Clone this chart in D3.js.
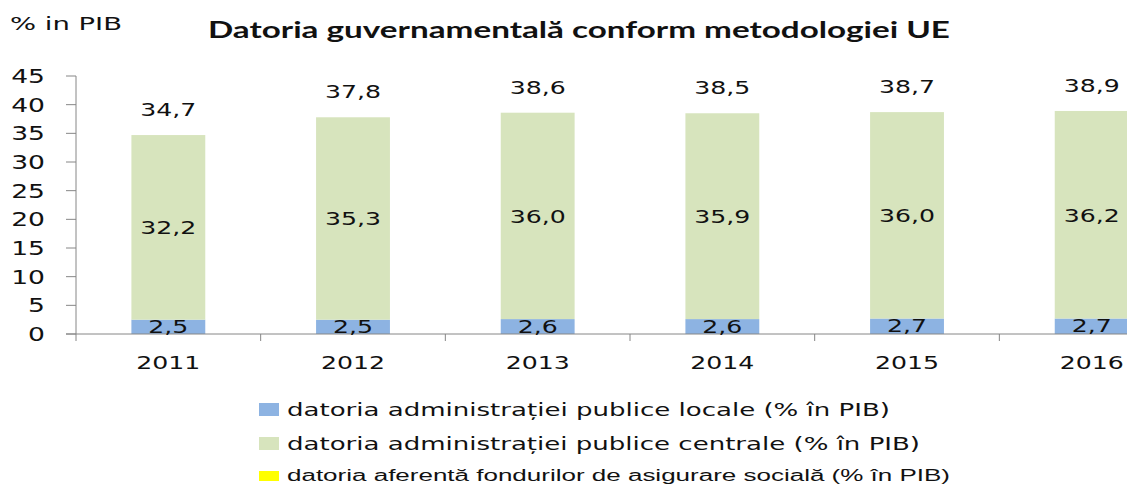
<!DOCTYPE html>
<html>
<head>
<meta charset="utf-8">
<script src="https://cdn.jsdelivr.net/npm/d3@7"></script>
<style>
  body { margin: 0; background: #fff; }
  text { font-family: "DejaVu Sans", Verdana, sans-serif; fill: #111; }
</style>
</head>
<body>
<div class="chart"></div>
<script>
var w = 1127;
var h = 485;

// data
const years = ["2011", "2012", "2013", "2014", "2015", "2016"];
const locale = [2.5, 2.5, 2.6, 2.6, 2.7, 2.7];
const centrale = [32.2, 35.3, 36.0, 35.9, 36.0, 36.2];
const sociale = [0, 0, 0, 0, 0, 0];
const totals = [34.7, 37.8, 38.6, 38.5, 38.7, 38.9];
const yTicks = [0, 5, 10, 15, 20, 25, 30, 35, 40, 45];
const seriesNames = [
  "datoria administrației publice locale (% în PIB)",
  "datoria administrației publice centrale (% în PIB)",
  "datoria aferentă fondurilor de asigurare socială (% în PIB)"
];
const colors = ["#8db3e2", "#d7e4bd", "#ffff00"];

const fmt = v => d3.format(".1f")(v).replace(".", ",");
const sx = 1.4; // the original text is stretched sideways

var svg = d3.select(".chart").append("svg")
  .attr("width", w)
  .attr("height", h);

var x = d3.scaleBand()
  .domain(years)
  .range([76, 76 + 6 * 184.67])
  .paddingInner(0.6)
  .paddingOuter(0.3);

var y = d3.scaleLinear()
  .domain([0, 45])
  .range([334, 76]);

function label(g, tx, ty, str, anchor, size) {
  return g.append("text")
    .attr("transform", "translate(" + tx + "," + ty + ") scale(" + sx + ",1)")
    .attr("text-anchor", anchor || "middle")
    .style("font-size", (size || 18) + "px")
    .text(str);
}

// stacked bars
const rows = years.map((yr, i) => ({year: yr, locale: locale[i], centrale: centrale[i], sociale: sociale[i]}));
const stack = d3.stack().keys(["locale", "centrale", "sociale"]);
const layers = stack(rows);

svg.selectAll("g.layer")
  .data(layers)
  .enter().append("g")
  .attr("class", "layer")
  .attr("fill", (d, i) => colors[i])
  .selectAll("rect")
  .data(d => d)
  .enter().append("rect")
  .attr("x", d => x(d.data.year))
  .attr("width", x.bandwidth())
  .attr("y", d => y(d[1]))
  .attr("height", d => y(d[0]) - y(d[1]));

// axes
const axisColor = "#868686";
svg.append("line")
  .attr("x1", 76).attr("x2", 76)
  .attr("y1", y(45)).attr("y2", y(0))
  .attr("stroke", axisColor);
svg.append("line")
  .attr("x1", 66).attr("x2", w)
  .attr("y1", y(0)).attr("y2", y(0))
  .attr("stroke", axisColor);

svg.selectAll("line.ytick")
  .data(yTicks)
  .enter().append("line")
  .attr("x1", 66).attr("x2", 76)
  .attr("y1", d => y(d)).attr("y2", d => y(d))
  .attr("stroke", axisColor);

const bounds = d3.range(years.length).map(i => x.range()[0] + i * x.step());
svg.selectAll("line.xtick")
  .data(bounds)
  .enter().append("line")
  .attr("x1", d => d).attr("x2", d => d)
  .attr("y1", y(0)).attr("y2", y(0) + 7)
  .attr("stroke", axisColor);

yTicks.forEach(t => {
  label(svg, 45, y(t) + 7, String(t), "end", 19);
});

years.forEach((yr, i) => {
  const cx = x(yr) + x.bandwidth() / 2;
  label(svg, cx, 369, yr, "middle", 18);
  label(svg, cx, y(totals[i]) - 19, fmt(totals[i]), "middle", 18);
  label(svg, cx, y((locale[i] + locale[i] + centrale[i]) / 2) + 7, fmt(centrale[i]), "middle", 18);
  label(svg, cx, y(locale[i] / 2) + 6, fmt(locale[i]), "middle", 18);
});

// titles
svg.append("text")
  .attr("x", 10).attr("y", 30)
  .attr("textLength", 112).attr("lengthAdjust", "spacingAndGlyphs")
  .style("font-size", "18px")
  .text("% in PIB");

svg.append("text")
  .attr("x", 208).attr("y", 38)
  .attr("textLength", 742).attr("lengthAdjust", "spacingAndGlyphs")
  .style("font-family", "Lato, 'Open Sans', sans-serif")
  .style("font-weight", "bold")
  .style("font-size", "22px")
  .text("Datoria guvernamentală conform metodologiei UE");

// legend
const legY = [416, 450, 481];
const legW = [603, 633, 663];
const legend = svg.selectAll("g.leg")
  .data(seriesNames)
  .enter().append("g")
  .attr("class", "leg");

legend.append("rect")
  .attr("x", 259)
  .attr("y", (d, i) => legY[i] - (i == 2 ? 10 : 13))
  .attr("width", 20)
  .attr("height", (d, i) => i == 2 ? 10 : 13)
  .attr("fill", (d, i) => colors[i]);

legend.append("text")
  .attr("x", 287)
  .attr("y", (d, i) => legY[i])
  .attr("textLength", (d, i) => legW[i])
  .attr("lengthAdjust", "spacingAndGlyphs")
  .style("font-family", (d, i) => i == 2 ? "'Liberation Sans', Arial, sans-serif" : null)
  .style("font-size", (d, i) => i == 2 ? "16px" : "18px")
  .text(d => d);
</script>
</body>
</html>
